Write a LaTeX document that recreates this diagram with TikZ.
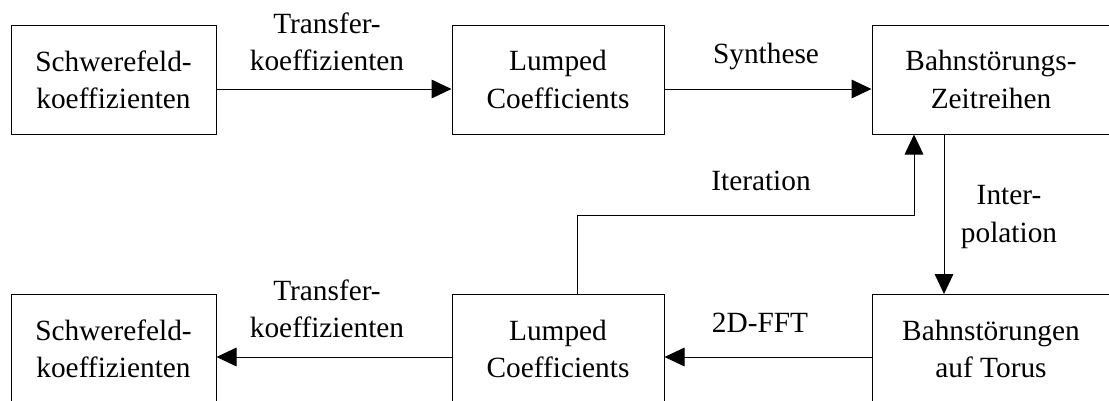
\documentclass[tikz,border=0pt]{standalone}
\usepackage{fontspec}
\setmainfont{Liberation Serif}
\usetikzlibrary{arrows.meta,calc}
\begin{document}
\begin{tikzpicture}[x=0.75pt,y=-0.75pt,line width=0.75pt,
        box/.style={draw,align=center,minimum height=109*0.75pt,inner sep=0pt},
        lbl/.style={align=center},
        flow/.style={-{Triangle[length=15pt,width=14pt]}},
        font=\fontsize{22}{28}\selectfont]
        \useasboundingbox (0,0) rectangle (1109,400);
        \clip (0,0) rectangle (1109,400);
        % top row
        \node[box,minimum width=205*0.75pt] (sk1) at (113.5,79.5) {Schwerefeld-\\koeffizienten};
        \node[box,minimum width=212*0.75pt] (lc1) at (558,79.5) {Lumped\\Coefficients};
        \node[box,minimum width=238*0.75pt] (bz) at (991,79.5) {Bahnstörungs-\\Zeitreihen};
        % bottom row
        \node[box,minimum width=205*0.75pt] (sk2) at (113.5,349) {Schwerefeld-\\koeffizienten};
        \node[box,minimum width=212*0.75pt] (lc2) at (558,349) {Lumped\\Coefficients};
        \node[box,minimum width=238*0.75pt] (bt) at (991,349) {Bahnstörungen\\auf Torus};
        % connectors
        \draw[flow] ($(sk1.east)+(0,9.5)$) -- ($(lc1.west)+(0,9.5)$);
        \draw[flow] ($(lc1.east)+(0,9.5)$) -- ($(bz.west)+(0,9.5)$);
        \draw[flow] ($(bz.south)+(-47,0)$) -- ($(bt.north)+(-47,0)$);
        \draw[flow] ($(bt.west)+(0,8)$) -- ($(lc2.east)+(0,8)$);
        \draw[flow] ($(lc2.west)+(0,8)$) -- ($(sk2.east)+(0,8)$);
        \draw[flow] ($(lc2.north)+(19,0)$) -- ++(0,-79) -| ($(bz.south)+(-77,0)$);
        % labels
        \node[lbl] (tk1) at (327,41.5) {Transfer-\\koeffizienten};
        \node[lbl,anchor=base] (syn) at (766,63) {Synthese};
        \node[lbl,anchor=base] (it) at (761,190) {Iteration};
        \node[lbl] (ip) at (1009,217) {Inter-\\polation};
        \node[lbl,anchor=base] (fft) at (760,332) {2D-FFT};
        \node[lbl] (tk2) at (327,309) {Transfer-\\koeffizienten};
\end{tikzpicture}
\end{document}
